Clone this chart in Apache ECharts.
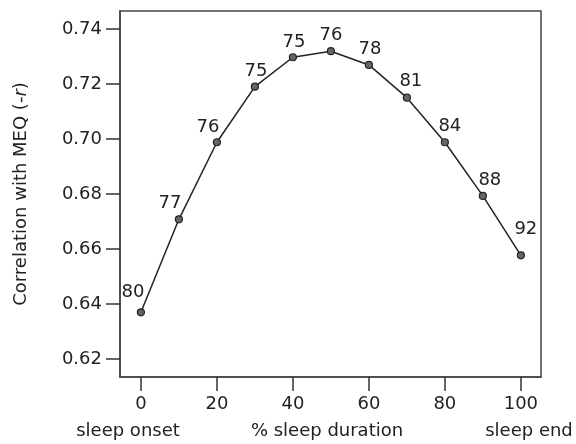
<!DOCTYPE html>
<html><head><meta charset="utf-8">
<script src="https://cdn.jsdelivr.net/npm/echarts@6/dist/echarts.min.js"></script>
<style>html,body{margin:0;padding:0;background:#fff}#c{width:576px;height:444px}</style>
</head><body><div id="c"></div>
<script>
const xValues = [0, 10, 20, 30, 40, 50, 60, 70, 80, 90, 100];
const corrValues = [0.637, 0.6708, 0.6988, 0.7190, 0.7297, 0.7319, 0.7269, 0.7150, 0.6988, 0.6793, 0.6577];
const pointLabels = ['80', '77', '76', '75', '75', '76', '78', '81', '84', '88', '92'];
const xTicks = [0, 20, 40, 60, 80, 100];
const yTicks = [0.62, 0.64, 0.66, 0.68, 0.70, 0.72, 0.74];
const xSubLabels = ['sleep onset', '% sleep duration', 'sleep end'];

// label offsets (style only)
const labelOffsets = [[-8, -2], [-9, 2], [-9, 3], [1, 3], [1, 3], [0, 2], [1, 2], [4, 2], [5, 2], [7, 3], [5, -8]];

const FONT = 'DejaVu Sans';
const FS = 18;
const TXT = '#222';

const chart = echarts.init(document.getElementById('c'), null, {renderer: 'canvas'});
chart.setOption({
  animation: false,
  backgroundColor: '#fff',
  grid: {left: 120, right: 35, top: 11, bottom: 67, show: true, borderColor: '#444', borderWidth: 1.5, backgroundColor: 'transparent'},
  xAxis: {
    type: 'value', min: -5.5, max: 105.3,
    axisLine: {show: true, onZero: false, lineStyle: {color: '#444', width: 1.5}},
    splitLine: {show: false},
    axisTick: {show: true, inside: false, length: 14, lineStyle: {color: '#333', width: 1.5}, customValues: xTicks},
    axisLabel: {customValues: xTicks, inside: false, margin: 18, fontFamily: FONT, fontSize: FS, color: TXT, formatter: v => String(v)}
  },
  yAxis: {
    type: 'value', min: 0.6135, max: 0.7465,
    axisLine: {show: true, onZero: false, lineStyle: {color: '#444', width: 1.5}},
    splitLine: {show: false},
    axisTick: {show: true, inside: false, length: 14, lineStyle: {color: '#333', width: 1.5}, customValues: yTicks},
    axisLabel: {customValues: yTicks, inside: false, margin: 18, fontFamily: FONT, fontSize: FS, color: TXT, formatter: v => v.toFixed(2)},
    name: 'Correlation with MEQ (-{i|r})',
    nameLocation: 'middle', nameGap: 90,
    nameTextStyle: {fontFamily: FONT, fontSize: FS, color: TXT, rich: {i: {fontFamily: FONT, fontSize: FS, fontStyle: 'italic', color: TXT}}}
  },
  series: [{
    type: 'line',
    data: xValues.map((x, i) => ({
      value: [x, corrValues[i]],
      label: {offset: labelOffsets[i]}
    })),
    symbol: 'circle', symbolSize: 7,
    itemStyle: {color: '#666', borderColor: '#222', borderWidth: 1.2},
    lineStyle: {color: '#222', width: 1.5},
    label: {
      show: true, position: 'top', distance: 5,
      fontFamily: FONT, fontSize: FS, color: TXT,
      formatter: p => pointLabels[p.dataIndex]
    }
  }],
  graphic: [
    {type: 'text', x: 128, y: 431, style: {text: xSubLabels[0], font: FS + 'px "' + FONT + '"', fill: TXT, textAlign: 'center', textVerticalAlign: 'middle'}},
    {type: 'text', x: 327, y: 431, style: {text: xSubLabels[1], font: FS + 'px "' + FONT + '"', fill: TXT, textAlign: 'center', textVerticalAlign: 'middle'}},
    {type: 'text', x: 529, y: 431, style: {text: xSubLabels[2], font: FS + 'px "' + FONT + '"', fill: TXT, textAlign: 'center', textVerticalAlign: 'middle'}}
  ]
});
</script></body></html>
